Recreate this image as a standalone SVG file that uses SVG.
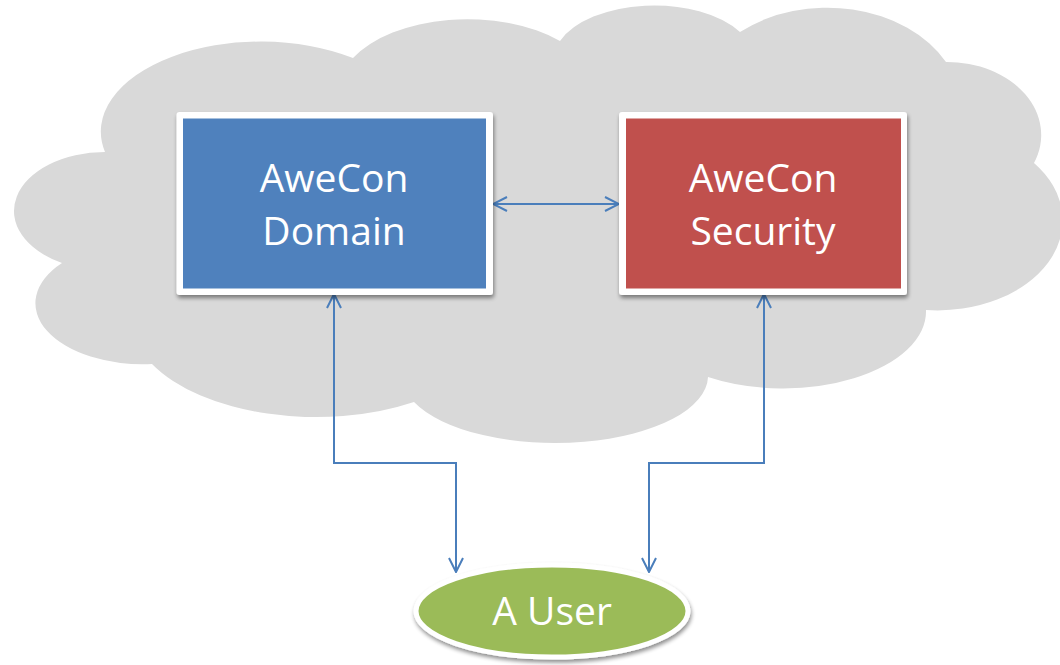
<svg xmlns="http://www.w3.org/2000/svg" width="1060" height="665" viewBox="0 0 1060 665">
  <style>
    .lbl { font-family: "Open Sans", "Liberation Sans", sans-serif; font-size: 39px; fill: #ffffff; text-anchor: middle; }
    .conn { fill: none; stroke: #4a7ebb; stroke-width: 2; marker-start: url(#arr); marker-end: url(#arr); }
    .frame { fill: #ffffff; filter: url(#shadow); }
  </style>
  <defs>
    <filter id="shadow" x="-10%" y="-10%" width="120%" height="130%">
      <feGaussianBlur in="SourceAlpha" stdDeviation="2"/>
      <feOffset dx="1" dy="3" result="b"/>
      <feComponentTransfer><feFuncA type="linear" slope="0.45"/></feComponentTransfer>
      <feMerge><feMergeNode/><feMergeNode in="SourceGraphic"/></feMerge>
    </filter>
    <marker id="arr" viewBox="0 0 16 16" refX="15" refY="8" markerWidth="16" markerHeight="16" markerUnits="userSpaceOnUse" orient="auto-start-reverse">
      <path d="M1,1 L15,8 L1,15" fill="none" stroke="#4a7ebb" stroke-width="2"/>
    </marker>
  </defs>

  <g id="cloud">
    <path d="M105,152 A160,90 0 0 1 353,58 A129,72 0 0 1 560,41 A101,56 0 0 1 740,32 A134,101 0 0 1 946,62 A94,73 0 0 1 1034,163 A125,90 0 0 1 926,310 A143,77 0 0 1 708,377 A153,67 0 0 1 414,402 A185,99 0 0 1 152,364 A107,61 0 0 1 62,263 A91,59 0 0 1 105,152 Z" fill="#d9d9d9"/>
  </g>

  <g id="connectors">
    <polyline class="conn" points="493,204 619,204"/>
    <polyline class="conn" points="334,294 334,463 456,463 456,572"/>
    <polyline class="conn" points="764,294 764,463 649,463 649,572"/>
  </g>

  <g id="domain">
    <rect class="frame" x="176.5" y="112" width="316.5" height="183" rx="3"/>
    <rect x="183" y="118.5" width="303" height="170" fill="#4f81bd"/>
    <text class="lbl" x="334" y="192">AweCon</text>
    <text class="lbl" x="334" y="245">Domain</text>
  </g>

  <g id="security">
    <rect class="frame" x="619" y="112" width="288" height="183" rx="3"/>
    <rect x="626" y="118.5" width="275" height="170" fill="#c0504d"/>
    <text class="lbl" x="763" y="192">AweCon</text>
    <text class="lbl" x="763" y="245">Security</text>
  </g>

  <g id="user">
    <ellipse cx="552" cy="611" rx="136" ry="46" fill="#9bbb59" stroke="#ffffff" stroke-width="5" filter="url(#shadow)"/>
    <text class="lbl" x="552" y="625">A User</text>
  </g>
</svg>
